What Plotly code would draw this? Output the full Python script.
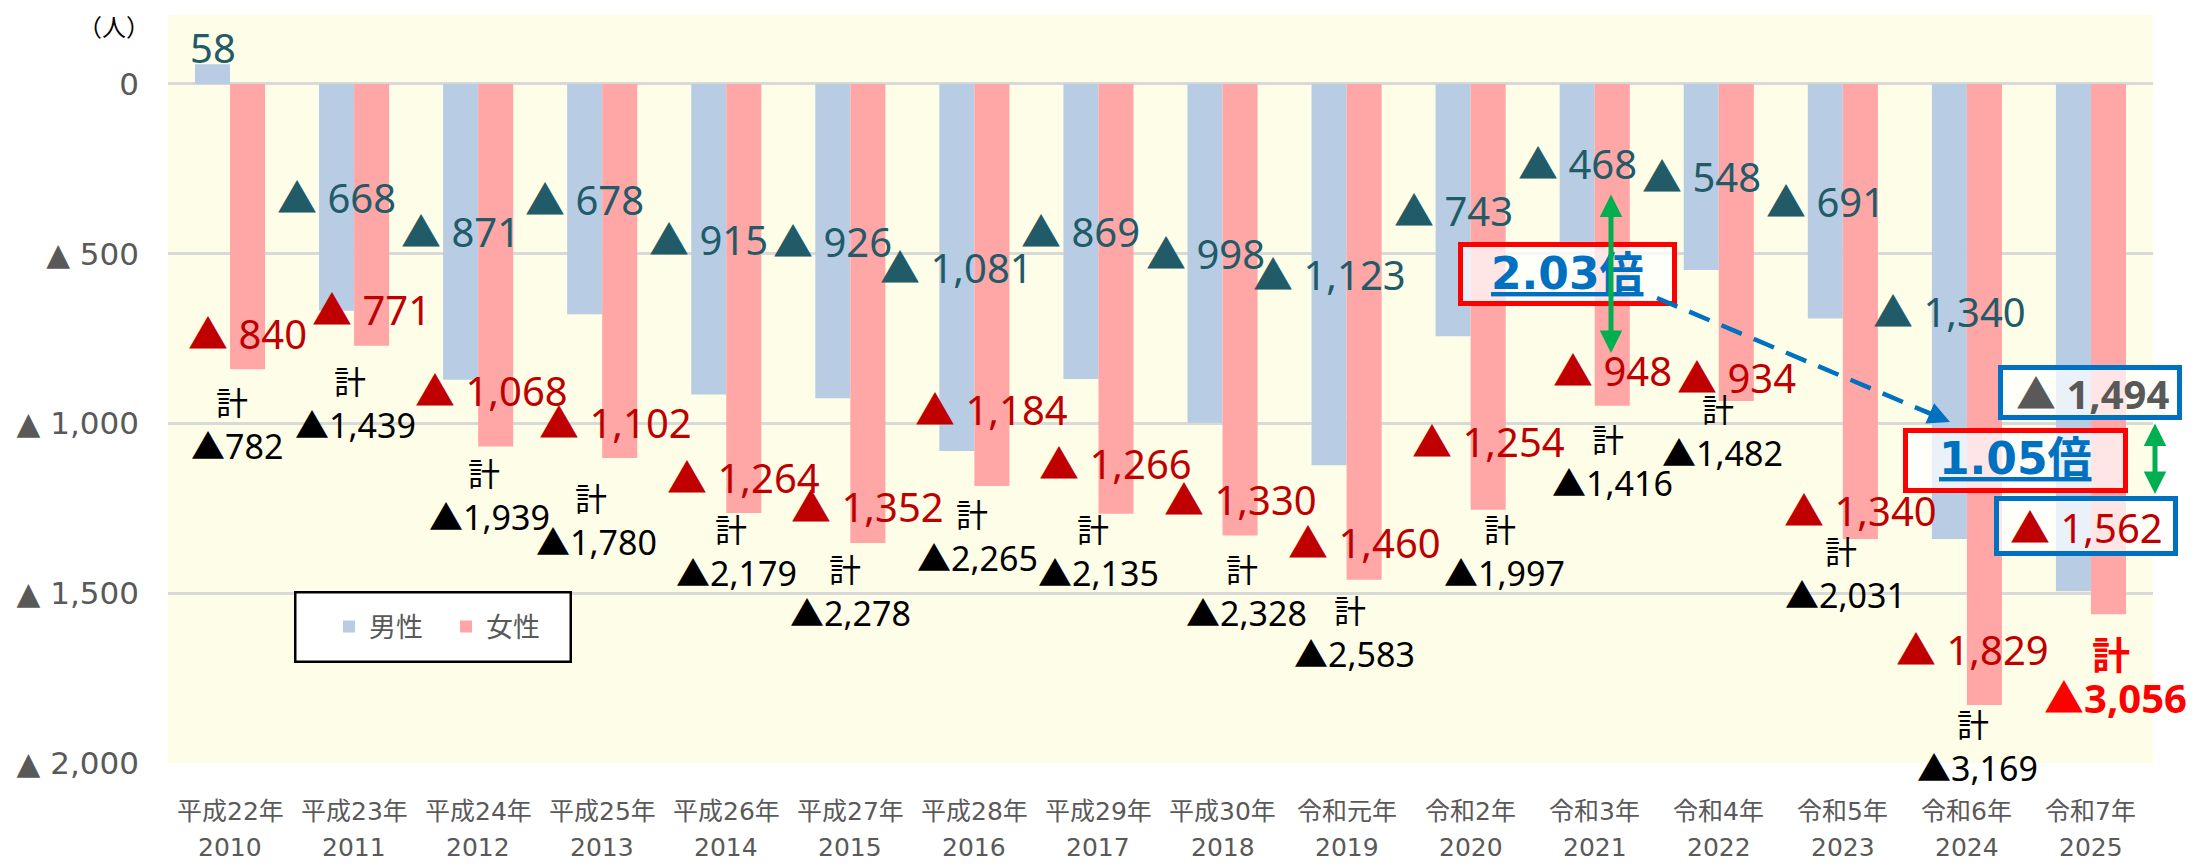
import plotly.graph_objects as go

# ---------------- data ----------------
era = ["平成22年", "平成23年", "平成24年", "平成25年", "平成26年", "平成27年", "平成28年", "平成29年",
       "平成30年", "令和元年", "令和2年", "令和3年", "令和4年", "令和5年", "令和6年", "令和7年"]
years = ["2010", "2011", "2012", "2013", "2014", "2015", "2016", "2017",
         "2018", "2019", "2020", "2021", "2022", "2023", "2024", "2025"]
male = [58, -668, -871, -678, -915, -926, -1081, -869, -998, -1123, -743, -468, -548, -691, -1340, -1494]
female = [-840, -771, -1068, -1102, -1264, -1352, -1184, -1266, -1330, -1460, -1254, -948, -934, -1340, -1829, -1562]
total = [-782, -1439, -1939, -1780, -2179, -2278, -2265, -2135, -2328, -2583, -1997, -1416, -1482, -2031, -3169, -3056]
y_tick_vals = [0, -500, -1000, -1500, -2000]
y_tick_text = ["0", "▲ 500", "▲ 1,000", "▲ 1,500", "▲ 2,000"]
ratio_text_2021 = "2.03倍"
ratio_text_2025 = "1.05倍"
unit_text = "（人）"
total_word = "計"

# ---------------- layout helpers (pixels) ----------------
W, H = 2201, 866
L, R, T, B = 168, 48, 15, 103
PW, PH = W - L - R, H - T - B
YMIN, YMAX = -2000, 203
BAR_HALF = 17.5  # px offset of each bar from its category centre

def pxx(x):
    return (x - L) / PW

def pxy(y):
    return (H - B - y) / PH

# label offsets (pixels), kept apart from the data
female_dy = [36, 36, 56, 36, 36, 36, 76, 50, 36, 37, 68, 35, 24, 28, 55, 0]
female_dx = [0, 0, -4, -4, 0, 0, 0, 0, 0, 0, 0, 0, 0, 0, -12, 0]
total_dy = [77, 79, 70, 84, 60, 70, 72, 59, 77, 74, 63, 77, 52, 56, 63, 83]
total_dx = [7, 1, 11, -6, 10, 0, 3, 0, 24, 8, 34, 18, 4, 3, 11, 25]
KEI_GAP = 45

LABEL_FONT = "Noto Sans, Noto Sans CJK JP"
CJK_FONT = "Noto Sans CJK JP"
AXIS_FONT = "DejaVu Sans, Noto Sans CJK JP"
TEAL = "#215B68"
DRED = "#C00000"
GREY = "#595959"
BLUE = "#0070C0"
GREEN = "#00B050"


def fmt(v, space=True):
    if v < 0:
        return ("▲ " if space else "▲") + f"{abs(v):,}"
    return f"{v:,}"


fig = go.Figure()
fig.add_bar(x=years, y=male, name="男性", marker_color="#B8CCE4", marker_line_width=0, hoverinfo="skip")
fig.add_bar(x=years, y=female, name="女性", marker_color="#FFA6A6", marker_line_width=0, hoverinfo="skip")

ann = []
n = len(years)
for i in range(n):
    last = i == n - 1
    if not last:
        # male labels (centre of the bar)
        if male[i] > 0:
            ann.append(dict(x=i, y=male[i], xref="x", yref="y", text=fmt(male[i]),
                            showarrow=False, xshift=-BAR_HALF, yshift=17, yanchor="middle",
                            font=dict(family=LABEL_FONT, size=40, color=TEAL)))
        else:
            ann.append(dict(x=i, y=male[i] / 2, xref="x", yref="y", text=fmt(male[i]),
                            showarrow=False, xshift=-BAR_HALF, yanchor="middle",
                            font=dict(family=LABEL_FONT, size=40, color=TEAL)))
        # female labels (inside end)
        ann.append(dict(x=i, y=female[i], xref="x", yref="y", text=fmt(female[i]),
                        showarrow=False, xshift=BAR_HALF + female_dx[i], yshift=female_dy[i], yanchor="middle",
                        font=dict(family=LABEL_FONT, size=40, color=DRED)))
        tcol, tsize, ksize, weight = "#000000", 34, 32, "normal"
    else:
        tcol, tsize, ksize, weight = "#FF0000", 40, 38, "bold"
    ann.append(dict(x=i, y=female[i], xref="x", yref="y", text=fmt(total[i], space=False),
                    showarrow=False, xshift=total_dx[i], yshift=-total_dy[i], yanchor="middle",
                    font=dict(family=LABEL_FONT, size=tsize, color=tcol, weight=weight)))
    ann.append(dict(x=i, y=female[i], xref="x", yref="y", text=total_word,
                    showarrow=False, xshift=total_dx[i] - 5, yshift=-total_dy[i] + KEI_GAP, yanchor="middle",
                    font=dict(family=CJK_FONT, size=ksize, color=tcol, weight=weight)))

# x-axis two-line category labels
for i in range(n):
    ann.append(dict(x=i, y=pxy(811), xref="x", yref="paper", text=era[i], showarrow=False,
                    yanchor="middle", font=dict(family=AXIS_FONT, size=25, color=GREY)))
    ann.append(dict(x=i, y=pxy(848), xref="x", yref="paper", text=years[i], showarrow=False,
                    yanchor="middle", borderpad=0, font=dict(family=AXIS_FONT, size=25, color=GREY)))

# unit
ann.append(dict(x=pxx(114), y=pxy(26), xref="paper", yref="paper", text=unit_text, showarrow=False,
                xanchor="center", yanchor="middle", font=dict(family=CJK_FONT, size=24, color="#000000")))

shapes = []


def box(x0, y0, x1, y1, color, lw, fill):
    shapes.append(dict(type="rect", xref="paper", yref="paper",
                       x0=pxx(x0 + lw / 2), x1=pxx(x1 - lw / 2), y0=pxy(y0 + lw / 2), y1=pxy(y1 - lw / 2),
                       line=dict(color=color, width=lw), fillcolor=fill, layer="above"))


# legend frame
box(294, 591, 572, 663, "#000000", 2.5, "#FFFFFF")

# 2025 highlighted labels
box(1998, 365, 2182, 420, BLUE, 5, "rgba(255,255,255,0.72)")
box(1994, 496, 2178, 556, BLUE, 5, "rgba(255,255,255,0.72)")
ann.append(dict(x=pxx(2092), y=pxy(393), xref="paper", yref="paper", text=fmt(male[-1]), showarrow=False,
                xanchor="center", yanchor="middle", font=dict(family=LABEL_FONT, size=40, color=GREY, weight="bold")))
ann.append(dict(x=pxx(2086), y=pxy(527), xref="paper", yref="paper", text=fmt(female[-1]), showarrow=False,
                xanchor="center", yanchor="middle", font=dict(family=LABEL_FONT, size=40, color=DRED)))

# ratio boxes
box(1458, 242, 1677, 306, "#FF0000", 5, "rgba(255,255,255,0.72)")
box(1903, 428, 2128, 493, "#FF0000", 5, "rgba(255,255,255,0.72)")
ann.append(dict(x=pxx(1567), y=pxy(273), xref="paper", yref="paper", text=ratio_text_2021, showarrow=False,
                xanchor="center", yanchor="middle",
                font=dict(family=AXIS_FONT, size=44, color=BLUE, weight="bold", lineposition="under")))
ann.append(dict(x=pxx(2015), y=pxy(459), xref="paper", yref="paper", text=ratio_text_2025, showarrow=False,
                xanchor="center", yanchor="middle",
                font=dict(family=AXIS_FONT, size=44, color=BLUE, weight="bold", lineposition="under")))

# green double arrows
ann.append(dict(x=pxx(1611), y=pxy(353), xref="paper", yref="paper", ax=0, ay=-160, text="",
                showarrow=True, arrowside="end+start", arrowhead=2, startarrowhead=2,
                arrowsize=0.9, startarrowsize=0.9, arrowwidth=5, arrowcolor=GREEN))
ann.append(dict(x=pxx(2155), y=pxy(494), xref="paper", yref="paper", ax=0, ay=-72, text="",
                showarrow=True, arrowside="end+start", arrowhead=2, startarrowhead=2,
                arrowsize=0.9, startarrowsize=0.9, arrowwidth=5, arrowcolor=GREEN))

# blue dashed arrow
sx, sy, ex, ey = 1657, 298, 1950, 422
shapes.append(dict(type="line", xref="paper", yref="paper", x0=pxx(sx), y0=pxy(sy), x1=pxx(ex - 14), y1=pxy(ey - 6),
                   line=dict(color=BLUE, width=4.5, dash="22px,13px"), layer="above"))
ann.append(dict(x=pxx(ex), y=pxy(ey), xref="paper", yref="paper", ax=-28, ay=-12, text="",
                showarrow=True, arrowhead=2, arrowsize=1.1, arrowwidth=4, arrowcolor=BLUE))

fig.update_layout(
    width=W, height=H,
    margin=dict(l=L, r=R, t=T, b=B, pad=0),
    paper_bgcolor="#FFFFFF", plot_bgcolor="#FEFDE8",
    barmode="group", bargap=0.435, bargroupgap=0,
    showlegend=True,
    legend=dict(orientation="h", x=pxx(329), y=pxy(627), xanchor="left", yanchor="middle",
                bgcolor="rgba(0,0,0,0)", borderwidth=0,
                font=dict(family=CJK_FONT, size=27, color=GREY), entrywidth=72, entrywidthmode="pixels"),
    annotations=ann, shapes=shapes,
    hovermode=False,
)
fig.update_xaxes(type="category", showticklabels=False, showgrid=False, zeroline=False, showline=False,
                 range=[-0.5, n - 0.5], fixedrange=True)
fig.update_yaxes(range=[YMIN, YMAX], tickvals=y_tick_vals, ticktext=y_tick_text, showgrid=True,
                 gridcolor="#D9D9D9", gridwidth=3, zeroline=False, showline=False, ticks="",
                 ticklabelstandoff=28, tickfont=dict(family=AXIS_FONT, size=31, color=GREY), fixedrange=True)

fig.write_html("out.html", config={"displayModeBar": False},
               post_script="document.body.style.margin='0px';")
